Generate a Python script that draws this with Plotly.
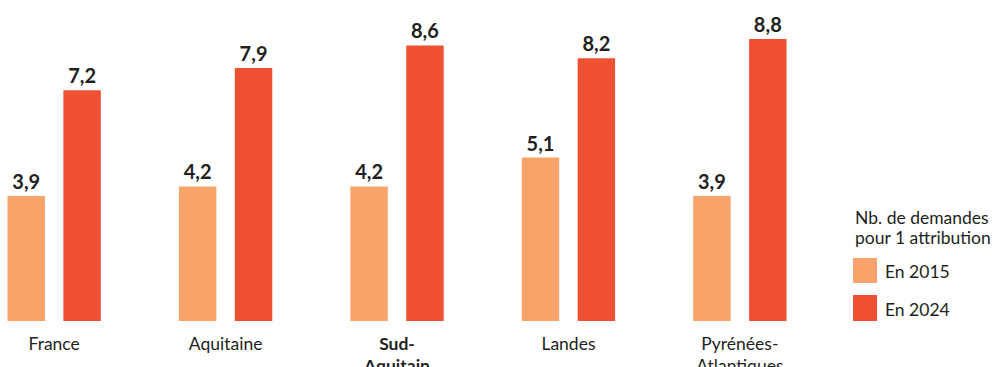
import plotly.graph_objects as go

# Données : nombre de demandes pour une attribution
categories = ["France", "Aquitaine", "<b>Sud-<br>Aquitain</b>", "Landes", "Pyrénées-<br>Atlantiques"]
series_names = ["En 2015", "En 2024"]
values_2015 = [3.9, 4.2, 4.2, 5.1, 3.9]
values_2024 = [7.2, 7.9, 8.6, 8.2, 8.8]
legend_title = ["Nb. de demandes", "pour 1 attribution"]

colors = ["#F8A36A", "#EE5033"]
text_color = "#231F20"
font_family = "Lato, 'Open Sans', sans-serif"

W, H = 997, 367
plot_h = 321  # hauteur de la zone de tracé (marge basse = H - plot_h)

x_pos = list(range(len(categories)))

def fmt(v):
    return f"{v:.1f}".replace(".", ",")

fig = go.Figure()
for name, vals, col in zip(series_names, [values_2015, values_2024], colors):
    fig.add_trace(go.Bar(
        x=x_pos, y=vals, name=name,
        marker=dict(color=col, line=dict(width=0)),
        text=[fmt(v) for v in vals],
        textposition="outside",
        constraintext="none",
        cliponaxis=False,
        textfont=dict(family=font_family, size=20, color=text_color, weight="bold"),
        showlegend=False,
        hoverinfo="skip",
    ))

fig.update_layout(
    width=W, height=H,
    margin=dict(l=0, r=0, t=0, b=H - plot_h),
    paper_bgcolor="white", plot_bgcolor="white",
    barmode="group", bargap=0.348, bargroupgap=0.33,
    font=dict(family=font_family, color=text_color, size=17.5),
    xaxis=dict(
        range=[-0.316, 5.50], tickmode="array", tickvals=x_pos, ticktext=categories,
        showgrid=False, zeroline=False, showline=False, ticks="",
        tickfont=dict(family=font_family, size=17.5, color=text_color),
        ticklabelstandoff=10, automargin=False,
    ),
    yaxis=dict(range=[0, 10.02], visible=False, showgrid=False, zeroline=False,
               automargin=False),
)

# Légende dessinée à droite : titre sur deux lignes puis carrés de couleur
def py(p):
    return 1 - p / plot_h

lx = 853 / W
fig.add_annotation(x=lx, y=py(217.5), xref="paper", yref="paper", text=legend_title[0],
                   showarrow=False, xanchor="left", yanchor="middle",
                   font=dict(size=17.5, color=text_color, family=font_family))
fig.add_annotation(x=lx, y=py(237.5), xref="paper", yref="paper", text=legend_title[1],
                   showarrow=False, xanchor="left", yanchor="middle",
                   font=dict(size=17.5, color=text_color, family=font_family))

swatches = [(258, 283, 271), (295, 321, 309)]
for (top, bot, mid), name, col in zip(swatches, series_names, colors):
    fig.add_shape(type="rect", xref="paper", yref="paper",
                  x0=853 / W, x1=877 / W, y0=py(bot), y1=py(top),
                  fillcolor=col, line=dict(width=0))
    fig.add_annotation(x=883 / W, y=py(mid), xref="paper", yref="paper", text=name,
                       showarrow=False, xanchor="left", yanchor="middle",
                       font=dict(size=17.5, color=text_color, family=font_family))

fig.write_html("out.html")
